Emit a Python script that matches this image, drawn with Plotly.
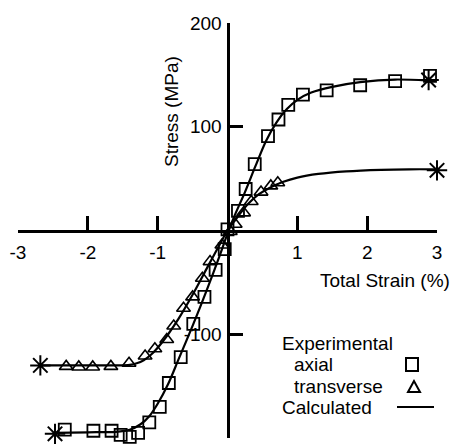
import plotly.graph_objects as go

# ---------------- data ----------------
axial_x = [0.0, 0.15, 0.26, 0.39, 0.58, 0.73, 0.87, 1.08, 1.42, 1.90, 2.40, 2.90,
           -0.04, -0.17, -0.33, -0.49, -0.67, -0.84, -0.97, -1.12, -1.28, -1.40,
           -1.53, -1.66, -1.92, -2.33]
axial_y = [1, 19, 40, 64, 91, 107, 121, 131, 135, 140, 144, 149,
           -18, -38, -64, -90, -122, -147, -170, -185, -195, -199,
           -197, -193, -193, -192]

trans_x = [0.04, 0.11, 0.23, 0.34, 0.48, 0.62, 0.72,
           -0.08, -0.25, -0.36, -0.50, -0.63, -0.77, -0.87, -1.04, -1.18,
           -1.41, -1.67, -1.93, -2.13, -2.31]
trans_y = [-1, 6, 17, 28, 37, 43, 46,
           -14, -30, -46, -64, -75, -92, -105, -114, -121,
           -128, -131, -131.5, -131.5, -131]

calc_axial_x = [-2.47, -2.0, -1.6, -1.4, -1.25, -1.12, -1.0, -0.85, -0.7, -0.5,
                -0.3, -0.1, 0.0, 0.1, 0.25, 0.4, 0.55, 0.7, 0.85, 1.0, 1.2,
                1.5, 1.9, 2.4, 2.88]
calc_axial_y = [-195, -194.5, -194, -192, -187, -179, -167, -148, -124, -92,
                -58, -22, -3, 14, 37, 62, 86, 104, 117, 126, 133,
                138.5, 143, 145.5, 144.5]

calc_trans_x = [-2.68, -2.0, -1.6, -1.4, -1.3, -1.2, -1.1, -1.0, -0.85, -0.7,
                -0.5, -0.3, -0.1, 0.0, 0.1, 0.2, 0.3, 0.45, 0.6, 0.8, 1.0,
                1.3, 1.7, 2.2, 2.6, 3.0]
calc_trans_y = [-130, -130, -130, -129.5, -128, -125, -120, -113, -100, -85,
                -62, -37, -12, 0, 9, 18, 26, 35, 41, 47, 51,
                54.5, 57, 58.5, 59, 59]

end_axial_x = [-2.47, 2.88]
end_axial_y = [-196, 145]
end_trans_x = [-2.68, 3.0]
end_trans_y = [-130, 58]

x_ticks = [-3, -2, -1, 1, 2, 3]
x_ticktext = ["-3", "-2", "-1", "1", "2", "3"]
y_ticks = [-200, -100, 100, 200]
y_ticktext = ["-200", "-100", "100", "200"]

legend_labels = ["Experimental", "axial", "transverse", "Calculated"]

# ---------------- figure ----------------
W, H = 454, 447
ML, MR, MT, MB = 18, 17, 23, 9
FONT = "Liberation Sans, Arial, sans-serif"
FS = 19

fig = go.Figure()

fig.add_trace(go.Scatter(x=calc_axial_x, y=calc_axial_y, mode="lines",
                         line=dict(color="black", width=2.2, shape="spline", smoothing=0.8),
                         hoverinfo="skip"))
fig.add_trace(go.Scatter(x=calc_trans_x, y=calc_trans_y, mode="lines",
                         line=dict(color="black", width=2.2, shape="spline", smoothing=0.8),
                         hoverinfo="skip"))
fig.add_trace(go.Scatter(x=axial_x, y=axial_y, mode="markers",
                         marker=dict(symbol="square-open", size=12, color="black",
                                     line=dict(width=1.8, color="black"))))
fig.add_trace(go.Scatter(x=trans_x, y=trans_y, mode="markers",
                         marker=dict(symbol="triangle-up-open", size=12, color="black",
                                     line=dict(width=1.6, color="black"))))
fig.add_trace(go.Scatter(x=end_axial_x + end_trans_x, y=end_axial_y + end_trans_y,
                         mode="markers",
                         marker=dict(symbol="asterisk-open", size=17, color="black",
                                     line=dict(width=2, color="black"))))
fig.update_traces(cliponaxis=False)

pw, ph = W - ML - MR, H - MT - MB


def px2paper(px, py):
    return (px - ML) / pw, (H - MB - py) / ph


annotations = []
# axis titles
tx, ty = px2paper(172, 112)
annotations.append(dict(x=tx, y=ty, xref="paper", yref="paper", text="Stress (MPa)",
                        textangle=-90, showarrow=False, xanchor="center", yanchor="middle",
                        font=dict(family=FONT, size=FS, color="black")))
tx, ty = px2paper(452, 280)
annotations.append(dict(x=tx, y=ty, xref="paper", yref="paper", text="Total Strain (%)",
                        showarrow=False, xanchor="right", yanchor="middle",
                        font=dict(family=FONT, size=FS, color="black")))
# legend text
for lbl, (lx, ly) in zip(legend_labels, [(280, 343), (292, 364), (292, 386), (280, 407)]):
    ax_, ay_ = px2paper(lx, ly)
    annotations.append(dict(x=ax_, y=ay_, xref="paper", yref="paper", text=lbl,
                            showarrow=False, xanchor="left", yanchor="middle",
                            font=dict(family=FONT, size=FS, color="black")))

shapes = []
x0, y0 = px2paper(406, 358)
x1, y1 = px2paper(418, 371)
shapes.append(dict(type="rect", xref="paper", yref="paper", x0=x0, x1=x1, y0=y1, y1=y0,
                   line=dict(color="black", width=2)))
a = px2paper(414, 381)
b = px2paper(408, 392)
c = px2paper(420, 392)
shapes.append(dict(type="path", xref="paper", yref="paper",
                   path=f"M {a[0]},{a[1]} L {b[0]},{b[1]} L {c[0]},{c[1]} Z",
                   line=dict(color="black", width=2)))
l0 = px2paper(397, 407)
l1 = px2paper(434, 407)
shapes.append(dict(type="line", xref="paper", yref="paper", x0=l0[0], x1=l1[0],
                   y0=l0[1], y1=l1[1], line=dict(color="black", width=2)))

fig.update_layout(
    width=W, height=H,
    margin=dict(l=ML, r=MR, t=MT, b=MB, pad=0),
    paper_bgcolor="white", plot_bgcolor="white",
    showlegend=False,
    font=dict(family=FONT, size=FS, color="black"),
    annotations=annotations,
    shapes=shapes,
    xaxis=dict(range=[-3, 3], domain=[0, 1], anchor="free", position=0.5,
               showgrid=False, zeroline=False, showline=True, linecolor="black",
               linewidth=3, ticks="inside", ticklen=14, tickwidth=3, tickcolor="black",
               tickvals=x_ticks, ticktext=x_ticktext, automargin=False,
               ticklabelstandoff=4,
               tickfont=dict(family=FONT, size=FS, color="black")),
    yaxis=dict(range=[-200, 200], domain=[0, 1], anchor="free", position=0.5,
               showgrid=False, zeroline=False, showline=True, linecolor="black",
               linewidth=3, ticks="inside", ticklen=13, tickwidth=3, tickcolor="black",
               tickvals=y_ticks, ticktext=y_ticktext, automargin=False,
               ticklabelstandoff=1,
               tickfont=dict(family=FONT, size=FS, color="black")),
)

fig.write_html("out.html", config={"displayModeBar": False},
               post_script="document.body.style.margin='0';document.body.style.padding='0';")
